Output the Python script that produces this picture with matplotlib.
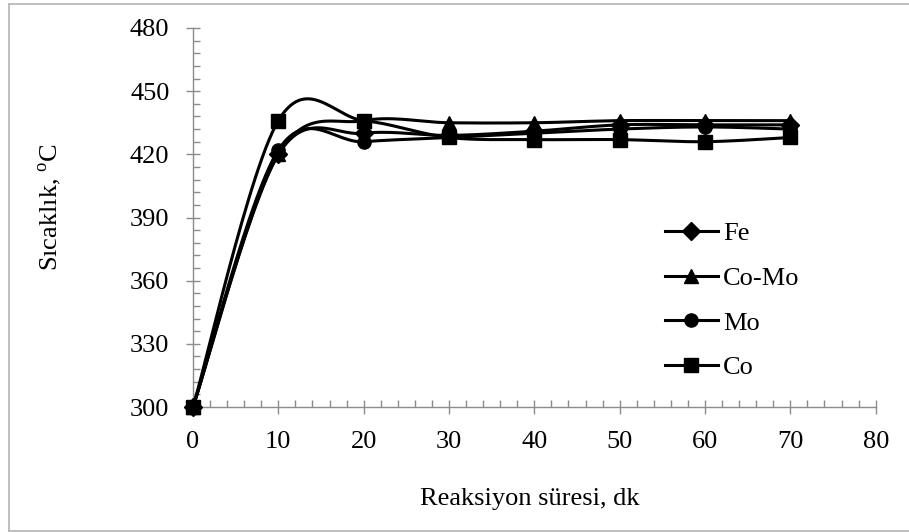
import numpy as np
import matplotlib
matplotlib.use("Agg")
import matplotlib.pyplot as plt
from matplotlib.lines import Line2D

time_min = [0, 10, 20, 30, 40, 50, 60, 70]
fe = [300, 420, 430, 429, 431, 434, 434, 434]
co_mo = [300, 420, 436, 435, 435, 436, 436, 436]
mo = [300, 422, 426, 428, 430, 432, 433, 432]
co = [300, 436, 436, 428, 427, 427, 426, 428]

series = [("Fe", fe, "D", 9), ("Co-Mo", co_mo, "^", 10), ("Mo", mo, "o", 9.5), ("Co", co, "s", 9.5)]

plt.rcParams['font.family'] = ['Liberation Serif', 'DejaVu Serif']
plt.rcParams['mathtext.fontset'] = 'custom'
plt.rcParams['mathtext.rm'] = 'Liberation Serif'

FS = 19
W, H = 909, 532


def smooth(x, y, n=30):
    """Catmull-Rom style smoothing (like Excel's smoothed line) for display."""
    x = np.asarray(x, float)
    y = np.asarray(y, float)
    P = np.column_stack([x, y])
    out = []
    for i in range(len(P) - 1):
        p0 = P[i - 1] if i > 0 else P[i]
        p1 = P[i]
        p2 = P[i + 1]
        p3 = P[i + 2] if i + 2 < len(P) else P[i + 1]
        c1 = p1 + (p2 - p0) / 6.0
        c2 = p2 - (p3 - p1) / 6.0
        t = np.linspace(0, 1, n)[:, None]
        seg = ((1 - t) ** 3) * p1 + 3 * ((1 - t) ** 2) * t * c1 + 3 * (1 - t) * t ** 2 * c2 + t ** 3 * p2
        out.append(seg if i == 0 else seg[1:])
    s = np.vstack(out)
    return s[:, 0], s[:, 1]


fig = plt.figure(figsize=(W / 100, H / 100), dpi=100)
ax = fig.add_axes([193 / W, 1 - 407 / H, (875.7 - 193) / W, (407 - 28) / H])

for name, vals, mk, ms in series:
    sx, sy = smooth(time_min, vals)
    ax.plot(sx, sy, color='black', lw=2.2, clip_on=False, zorder=3)
    ax.plot(time_min, vals, linestyle='none', marker=mk, ms=ms, color='black',
            clip_on=False, zorder=4)
    ax.plot([], [], color='black', lw=2.2, marker=mk, ms=ms, label=name)

ax.set_xlim(0, 80)
ax.set_ylim(300, 480)
ax.set_xticks(np.arange(0, 81, 10))
ax.set_yticks(np.arange(300, 481, 30))
ax.set_xticks(np.arange(0, 81, 2), minor=True)
ax.set_yticks(np.arange(300, 481, 6), minor=True)

gray = '#8c8c8c'
for side in ['top', 'right']:
    ax.spines[side].set_visible(False)
for side in ['left', 'bottom']:
    ax.spines[side].set_color(gray)
    ax.spines[side].set_linewidth(1.0)

ax.tick_params(axis='both', which='major', direction='inout', length=10, width=1.0,
               color=gray, labelsize=FS, labelcolor='black')
ax.tick_params(axis='both', which='minor', direction='in', length=5, width=1.0, color=gray)
ax.tick_params(axis='y', which='major', pad=12)
ax.tick_params(axis='x', which='major', pad=12)

fig.text(530 / W, 1 - 499 / H, 'Reaksiyon süresi, dk', fontsize=FS, ha='center', va='center')
fig.text(50 / W, 1 - 207 / H, r'Sıcaklık, $^{\mathrm{o}}$C', fontsize=FS, ha='center', va='center',
         rotation=90)

leg = ax.legend(loc='upper left', bbox_to_anchor=(665 / W, 1 - 222 / H), bbox_transform=fig.transFigure,
                frameon=False, fontsize=FS, handlelength=2.0, handletextpad=0.2, labelspacing=0.8,
                borderpad=0, borderaxespad=0)

bc = '#b4b4b4'
fig.add_artist(Line2D([9 / W, 9 / W], [1 - 4 / H, 1 - 531 / H], transform=fig.transFigure, color=bc, lw=1.2))
fig.add_artist(Line2D([9 / W, 1.0], [1 - 4 / H, 1 - 4 / H], transform=fig.transFigure, color=bc, lw=1.2))
fig.add_artist(Line2D([9 / W, 1.0], [1 - 531 / H, 1 - 531 / H], transform=fig.transFigure, color=bc, lw=1.2))

fig.savefig('out.png', dpi=100)
